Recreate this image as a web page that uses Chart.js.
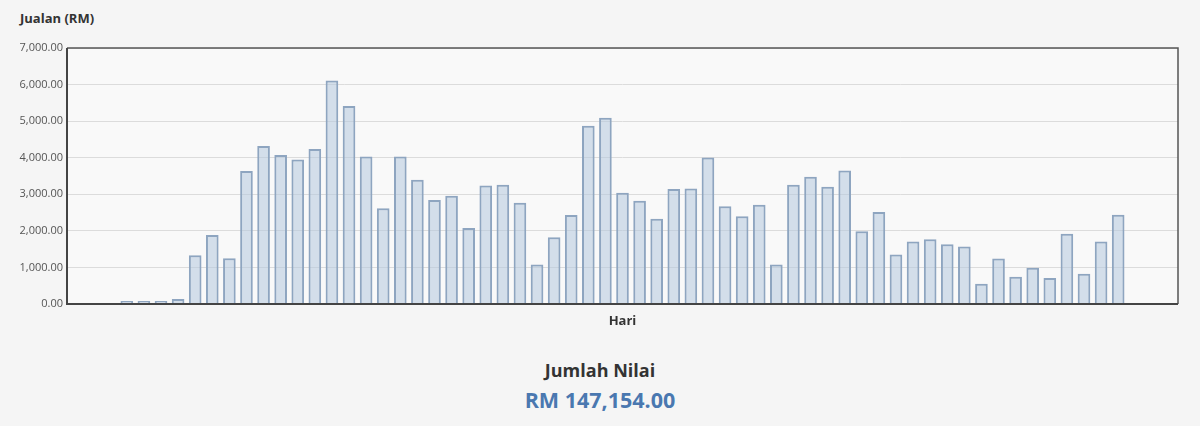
<!DOCTYPE html>
<html>
<head>
<meta charset="utf-8">
<script src="https://cdn.jsdelivr.net/npm/chart.js@4.4.0/dist/chart.umd.min.js"></script>
<style>
  body { margin: 0; background: #f5f5f5; font-family: "Open Sans", sans-serif; }
  #wrap { position: relative; width: 1200px; height: 426px; }
  #ytitle { position: absolute; left: 20px; top: 9px; font-size: 13px; font-weight: bold; color: #333; }
  #box { position: absolute; left: 0; top: 0; width: 1200px; height: 334px; }
  #total { position: absolute; left: 0; top: 356px; width: 1200px; text-align: center; }
  #total .lbl { font-size: 18px; font-weight: bold; color: #333; line-height: 28px; }
  #total .val { font-size: 21.5px; font-weight: bold; color: #4a78b0; line-height: 32px; }
</style>
</head>
<body>
<div id="wrap">
  <div id="ytitle">Jualan (RM)</div>
  <div id="box"><canvas id="salesChart"></canvas></div>
  <div id="total">
    <div class="lbl">Jumlah Nilai</div>
    <div class="val">RM 147,154.00</div>
  </div>
</div>
<script>
document.addEventListener('DOMContentLoaded', (event) => {
    // daily sales, RM
    const sales = [
        27, 20, 63, 136, 1335, 1888, 1253, 3640, 4322, 4076,
        3951, 4240, 6112, 5411, 4033, 2616, 4033, 3395, 2845, 2960,
        2079, 3242, 3260, 2769, 1080, 1826, 2433, 4877, 5095, 3041,
        2823, 2332, 3142, 3160, 4005, 2670, 2398, 2714, 1080, 3260,
        3477, 3204, 3651, 1989, 2515, 1352, 1706, 1771, 1635, 1570,
        553, 1243, 744, 989, 708, 1924, 826, 1706, 2441
    ];
    const days = sales.map((v, i) => 'Hari ' + (i + 1));

    // empty days on both ends of the axis
    const padStart = 3;
    const padEnd = 3;

    const labels = [].concat(Array(padStart).fill(''), days, Array(padEnd).fill(''));
    const values = [].concat(Array(padStart).fill(null), sales, Array(padEnd).fill(null));

    const yTicks = [0, 1000, 2000, 3000, 4000, 5000, 6000, 7000];

    const frame = {
        id: 'frame',
        beforeDraw(chart) {
            const { ctx, chartArea: a } = chart;
            ctx.save();
            ctx.fillStyle = '#f9f9f9';
            ctx.fillRect(a.left, a.top, a.right - a.left, a.bottom - a.top);
            ctx.restore();
        },
        afterDraw(chart) {
            const { ctx, chartArea: a } = chart;
            ctx.save();
            ctx.strokeStyle = '#555';
            ctx.lineWidth = 1.5;
            ctx.beginPath();
            ctx.moveTo(a.left, a.top);
            ctx.lineTo(a.right, a.top);
            ctx.lineTo(a.right, a.bottom);
            ctx.stroke();
            ctx.strokeStyle = '#444';
            ctx.lineWidth = 2;
            ctx.beginPath();
            ctx.moveTo(a.left, a.top);
            ctx.lineTo(a.left, a.bottom);
            ctx.lineTo(a.right, a.bottom);
            ctx.stroke();
            ctx.restore();
        }
    };

    const ctx = document.getElementById('salesChart').getContext('2d');

    new Chart(ctx, {
        type: 'bar',
        data: {
            labels: labels,
            datasets: [{
                label: 'Jualan (RM)',
                data: values,
                backgroundColor: 'rgba(180, 200, 222, 0.55)',
                borderColor: '#8ea5c0',
                borderWidth: 2,
                borderSkipped: 'bottom',
                minBarLength: 3,
                barPercentage: 0.74,
                categoryPercentage: 1
            }]
        },
        options: {
            responsive: true,
            maintainAspectRatio: false,
            animation: false,
            layout: { padding: { top: 48, right: 22, left: 0, bottom: 0 } },
            plugins: {
                legend: { display: false },
                tooltip: { enabled: false }
            },
            scales: {
                x: {
                    grid: { display: false },
                    border: { display: false },
                    ticks: { display: false },
                    title: {
                        display: true,
                        text: 'Hari',
                        color: '#333',
                        font: { family: 'Open Sans', size: 13, weight: 'bold' },
                        padding: { top: 0, bottom: 5 }
                    },
                    afterFit: (s) => { s.height = 30; }
                },
                y: {
                    min: 0,
                    max: 7000,
                    afterBuildTicks: (s) => { s.ticks = yTicks.map(v => ({ value: v })); },
                    grid: { color: '#dcdcdc', lineWidth: 1, drawTicks: false },
                    border: { display: false },
                    ticks: {
                        padding: 4,
                        color: '#555',
                        font: { family: 'Open Sans', size: 11 },
                        callback: (v) => v.toLocaleString('en-US', { minimumFractionDigits: 2, maximumFractionDigits: 2 })
                    },
                    afterFit: (s) => { s.width = 67; }
                }
            }
        },
        plugins: [frame]
    });
});
</script>
</body>
</html>
